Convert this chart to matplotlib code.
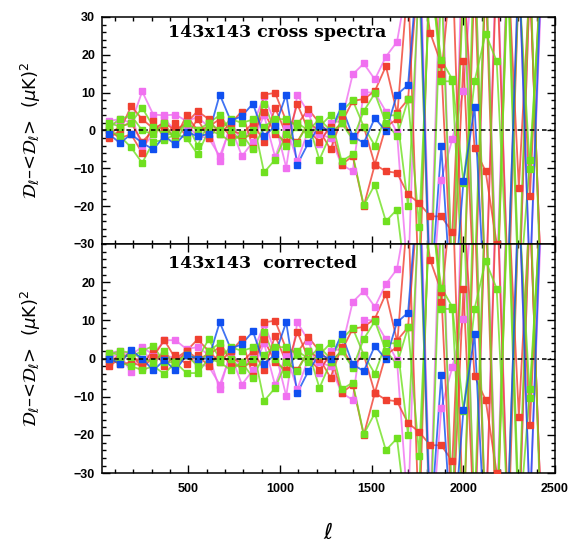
import matplotlib
matplotlib.use("Agg")
import matplotlib.pyplot as plt
from matplotlib.ticker import MultipleLocator

# multipole bin centres
ell = [68 + 60.4 * i for i in range(40)]

# low-ell part (first 10 bins) : top panel (raw) and bottom panel (corrected)
lo_top = {
    "pink1": [2.5, 3, 2, 10.3, 4.2, 4, 4.2, 2.5, 3.5, 1],
    "pink2": [1, 2.5, 4, -4.6, -1, 3, 0, 1.5, -1.5, -2],
    "red1": [-2, 0, 6.4, 3, 0.5, 2, 0, 2, 5.1, 3],
    "red2": [0, -2, -1, -6, 2.5, -2, 2, -1.5, 3, -2],
    "red3": [-1, 1, 2, -3, 0, 1, -2, 4, 0, 1],
    "green1": [2, 1, 2, 6, 1, -1, -1, 2, 0, 2],
    "green2": [0, -1.5, -4.5, -8.6, -3, -2.5, -1, -2, -6.3, 0],
    "green3": [1, 3, 4, 0, -1, 2, -3, 2, -4, 2],
    "blue": [-1, -3.3, -1, -3.3, -5, -1.5, -3.7, -0.4, -1.5, -1],
}
lo_bot = {
    "pink1": [1.5, 2, 1, 3, 1, 4.8, 4.8, 2.5, 3, 1],
    "pink2": [0.5, 1, -3.5, 2.2, -1, 1, 0, 1, -1.5, -2],
    "red1": [-2, 0, 1.5, -2.6, 0.5, 4.8, 0, 2, 5, 2],
    "red2": [0, -1.5, -1, -2, 2.5, -2, 1, -1.5, 1, -2],
    "red3": [-1, 1, 0.5, -1, 0, 1, -1.5, 2, 0, 1],
    "green1": [1.5, 1, 0.5, 2, 3.3, -1, -1, 1, 0, 5],
    "green2": [0, -1, -2, -3, -2, -4, -1, -3.8, -3.8, 0],
    "green3": [1, 2, 1.5, 0, -1, 2, -2, 1, -2, 2],
    "blue": [0, -1.3, 2.2, 0, -3.1, -0.4, -3.1, 0.9, 0, 0],
}
# higher-ell part (bins 10..39), common to both panels
hi = {
    "pink1": [-8.1, 2, -3, 1.5, 9.0, 2, -9.8, 9.5, 4.7, -3.7, 2, 2.5, 14.8, 17.7, 13.5, 19.5, 23.4,
              40, 55, -40, 50, -45, 60, -50, 45, -40, 50, -45, 40, -40],
    "pink2": [-6.8, 1, -6.8, -3, 4, -7, 1, -8, 0, -1, -2, -9, -10.8, 10.1, 10, 5, -0.5,
              -40, 45, -50, -13, -2.2, 10.4, 50, -45, 50, -40, 45, -40, 35],
    "red1": [-1, 2, 5, -4.6, 9.5, 9.9, 2.5, 1.6, 5.6, 2, -1, 2, 7.8, 8.3, 10.4, 17.0, 4.7,
             8.2, 45, 25.8, 17.5, -45, 18.3, -45, 40, -50, 45, -15.2, 40, -40],
    "red2": [1.5, -1.5, -2, -1, 5, -1, -3, 7, 0, -3, 1, -9, -6.8, -20, -9, -10.8, -11.2,
             -16.9, -19.2, -22.7, -22.7, -26.9, 40, -4.6, -10.8, -29.9, -50, 40, -17.4, 45],
    "red3": [3, 0, -1, 2, -3, 6, -1, -3, 2, 0, -5, 3, -2, 1, -9, 1, 3,
             40, -45, 50, 14.8, 45, -45, 40, -45, 45, -40, -45, 40, -40],
    "green1": [0, 3, 2, 2.9, -11.1, -7.7, -1, -3.2, 2, -7.7, -1, 2, -2.4, 5.1, 9.8, 2, -1.5,
               8.2, -25.4, 40, 18.6, 13.5, -13.8, 13.0, 25.6, 18.3, -40, 40, -10.3, 40],
    "green2": [-1, -3, -1, -5, 1, 3, 3, 1, -1, 1, 4, -8.1, -6.3, -19.8, -14.3, -24, -20.9,
               -45, -35, 45, 13, 13, -45, 50, -45, -45, 40, -45, -7.9, 40],
    "green3": [4, 0, -3, 0, 7, 0, -4, 2, 0, 3, 0, 5, 8, 1, -4, 4, 4,
               -20, 40, -45, 40, -40, 40, -40, 45, -45, 45, -40, 45, -45],
    "blue": [9.5, 2.5, 3.8, 7.1, -1.5, 1.1, 9.5, -9, -3.3, 1.1, -0.2, 6.4, -1.5, -3.3, 3.3, -0.2, 9.5,
             12, 48, -45, -4.2, -50, -13.4, 6.3, -50, -45, -40, 45, -40, 40],
}

colors = {
    "pink1": "#f070f0", "pink2": "#f070f0",
    "red1": "#f04030", "red2": "#f04030", "red3": "#f04030",
    "green1": "#70e020", "green2": "#70e020", "green3": "#70e020",
    "blue": "#1050f0",
}
order = ["pink1", "pink2", "red1", "red2", "red3", "green1", "green2", "green3", "blue"]

titles = ["143x143 cross spectra", "143x143  corrected"]
ylabel = r"$\mathcal{D}_\ell$" + "\u2013<" + r"$\mathcal{D}_\ell$" + r">  ($\mu$K)$^2$"

fig = plt.figure(figsize=(5.73, 5.47), dpi=100)
ax1 = fig.add_axes([0.178, 0.554, 0.7906, 0.415])
ax2 = fig.add_axes([0.178, 0.135, 0.7906, 0.419], sharex=ax1)

for ax, lo, title, ty in [(ax1, lo_top, titles[0], 0.93), (ax2, lo_bot, titles[1], 0.915)]:
    for k in order:
        y = lo[k] + hi[k]
        c = colors[k]
        ax.plot(ell, y, color=c, lw=1.3, alpha=0.8, zorder=2)
        ax.plot(ell, y, ls="none", marker="s", ms=4.6, color=c, mec=c, zorder=3)
    ax.axhline(0, color="black", lw=1.1, ls=(0, (3, 2, 1, 2)), zorder=4)
    ax.set_xlim(30, 2500)
    ax.set_ylim(-30, 30)
    ax.xaxis.set_major_locator(MultipleLocator(500))
    ax.xaxis.set_minor_locator(MultipleLocator(100))
    ax.yaxis.set_major_locator(MultipleLocator(10))
    ax.yaxis.set_minor_locator(MultipleLocator(2))
    ax.tick_params(which="both", direction="in", top=True, right=True, width=1)
    ax.tick_params(which="major", length=6, pad=5)
    ax.tick_params(which="minor", length=3)
    for s in ax.spines.values():
        s.set_linewidth(1.1)
    ax.text(0.146, ty, title, transform=ax.transAxes, fontsize=12.5, fontweight="bold",
            family="DejaVu Serif", va="center", ha="left")
    ax.set_ylabel(ylabel, fontsize=13, labelpad=22)

ax1.tick_params(labelbottom=False)
ax2.set_yticks([-30, -20, -10, 0, 10, 20])
ax2.set_xticks([500, 1000, 1500, 2000, 2500])
ax2.tick_params(axis="x", which="major", pad=7)
for lab in ax2.get_yticklabels() + ax2.get_xticklabels() + ax1.get_yticklabels():
    lab.set_fontfamily("Liberation Sans")
    lab.set_fontweight("bold")
    lab.set_fontsize(9)
ax2.set_xlabel(r"$\ell$", fontsize=16, labelpad=20)
fig.align_ylabels([ax1, ax2])

fig.savefig("out.png", dpi=100)
